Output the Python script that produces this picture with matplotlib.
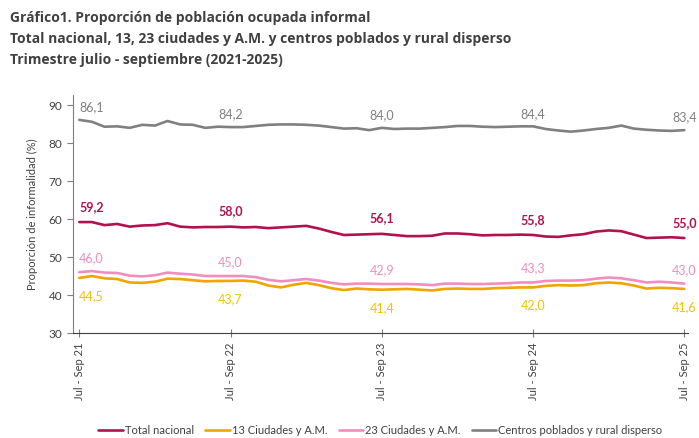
import matplotlib
matplotlib.use('Agg')
import matplotlib.pyplot as plt
import numpy as np

plt.rcParams.update({
    'font.family': ['Lato', 'DejaVu Sans'],
    'font.size': 8,
    'axes.edgecolor': '#7f7f7f',
    'xtick.color': '#7f7f7f',
    'ytick.color': '#7f7f7f',
    'xtick.labelcolor': '#404040',
    'ytick.labelcolor': '#404040',
})

# 49 trimestres moviles, jul-sep 2021 a jul-sep 2025
tick_labels = ['Jul - Sep 21', 'Jul - Sep 22', 'Jul - Sep 23', 'Jul - Sep 24', 'Jul - Sep 25']

total_nacional = [59.2, 59.2, 58.4, 58.7, 58.0, 58.3, 58.4, 58.9, 58.0, 57.8, 57.9, 57.9,
                  58.0, 57.8, 57.9, 57.6, 57.8, 58.0, 58.2, 57.5, 56.6, 55.8, 55.9, 56.0,
                  56.1, 55.8, 55.5, 55.5, 55.6, 56.2, 56.2, 56.0, 55.7, 55.8, 55.8, 55.9,
                  55.8, 55.4, 55.3, 55.7, 56.0, 56.7, 57.0, 56.8, 55.9, 55.0, 55.1, 55.2,
                  55.0]
ciudades_13 = [44.5, 45.0, 44.4, 44.2, 43.3, 43.2, 43.5, 44.3, 44.2, 43.9, 43.6, 43.7,
               43.7, 43.8, 43.5, 42.5, 42.0, 42.7, 43.2, 42.6, 41.8, 41.3, 41.7, 41.5,
               41.4, 41.5, 41.6, 41.4, 41.2, 41.6, 41.7, 41.6, 41.6, 41.8, 41.9, 42.0,
               42.0, 42.4, 42.6, 42.5, 42.6, 43.1, 43.3, 43.1, 42.5, 41.7, 41.9, 41.8,
               41.6]
ciudades_23 = [46.0, 46.3, 45.9, 45.8, 45.1, 44.9, 45.2, 45.9, 45.6, 45.4, 45.0, 45.0,
               45.0, 45.0, 44.7, 44.0, 43.6, 43.9, 44.2, 43.8, 43.2, 42.8, 43.0, 43.0,
               42.9, 42.9, 42.9, 42.8, 42.6, 43.0, 43.0, 42.9, 42.9, 43.0, 43.1, 43.3,
               43.3, 43.7, 43.8, 43.8, 43.9, 44.3, 44.6, 44.4, 43.9, 43.3, 43.5, 43.3,
               43.0]
centros_rural = [86.1, 85.6, 84.3, 84.4, 84.0, 84.8, 84.6, 85.8, 84.9, 84.8, 84.0, 84.3,
                 84.2, 84.2, 84.5, 84.8, 84.9, 84.9, 84.8, 84.6, 84.2, 83.8, 83.9, 83.4,
                 84.0, 83.7, 83.8, 83.8, 84.0, 84.2, 84.5, 84.5, 84.3, 84.2, 84.3, 84.4,
                 84.4, 83.7, 83.3, 83.0, 83.3, 83.7, 84.0, 84.6, 83.8, 83.5, 83.3, 83.2,
                 83.4]

series = [
    ('Total nacional', total_nacional, '#b0124f', '#b0124f', True, 11),
    ('13 Ciudades y A.M.', ciudades_13, '#f0a500', '#f2c200', False, -13),
    ('23 Ciudades y A.M.', ciudades_23, '#f28dbf', '#f28dbf', False, 10),
    ('Centros poblados y rural disperso', centros_rural, '#808080', '#808080', False, 9),
]

fig = plt.figure(figsize=(6.99, 4.38), dpi=100)
ax = fig.add_axes([0.1044, 0.2397, 0.880, 0.543])

x = np.arange(len(total_nacional))
label_idx = [0, 12, 24, 36, 48]
for name, vals, col, lcol, bold, dy in series:
    ax.plot(x, vals, color=col, lw=1.9, label=name, solid_capstyle='round')
    for i in label_idx:
        ha = 'left' if i == 0 else 'center'
        ax.annotate(f'{vals[i]:.1f}'.replace('.', ','), (x[i], vals[i]),
                    xytext=(0, dy), textcoords='offset points', ha=ha, va='center',
                    color=lcol, fontsize=9, fontweight='bold' if bold else 'normal')

ax.set_xlim(-0.5, 48.3)
ax.set_ylim(30, 92.6)
ax.set_yticks(range(30, 91, 10))
ax.set_xticks(label_idx)
ax.set_xticklabels(tick_labels, rotation=90, fontsize=8)
ax.tick_params(axis='x', direction='inout', length=6, width=0.8, pad=4)
ax.tick_params(axis='y', direction='out', length=4, width=0.8, labelsize=8.5)
ax.set_ylabel('Proporción de informalidad (%)', fontsize=8, color='#404040', labelpad=8)
for s in ['top', 'right']:
    ax.spines[s].set_visible(False)
ax.spines['bottom'].set_color('#404040')

ax.legend(loc='center', bbox_to_anchor=(0.5, -0.41), ncol=4, frameon=False,
          fontsize=8, handlelength=2.2, handletextpad=0.2, columnspacing=1.0,
          labelcolor='#404040')

title = ['Gráfico1. Proporción de población ocupada informal',
         'Total nacional, 13, 23 ciudades y A.M. y centros poblados y rural disperso',
         'Trimestre julio - septiembre (2021-2025)']
for k, t in enumerate(title):
    fig.text(10 / 699, 1 - (18 + 21 * k) / 438, t, fontsize=10, fontweight='bold',
             color='#404040', family=['Open Sans', 'DejaVu Sans'], va='center')

fig.savefig('out.png', dpi=100)
